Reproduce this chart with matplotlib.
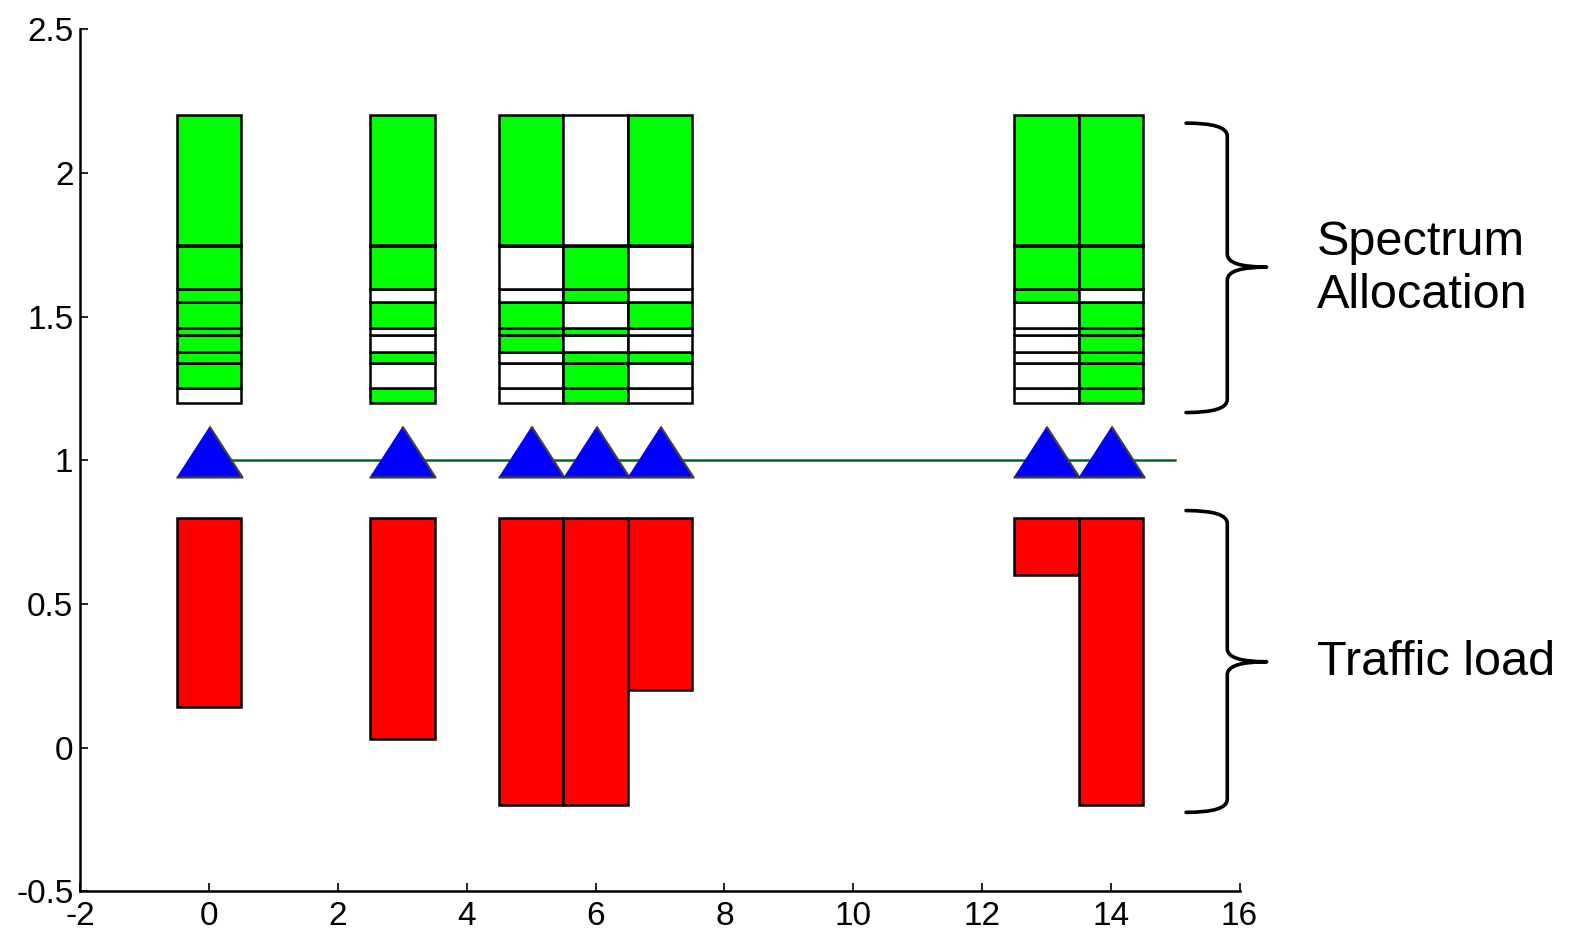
import numpy as np
import matplotlib.pyplot as plt
from matplotlib.path import Path
from matplotlib.patches import PathPatch

plt.rcParams['font.family'] = ['Liberation Sans', 'DejaVu Sans']
plt.rcParams['axes.unicode_minus'] = False

# node positions along the x axis
nodes = [0, 3, 5, 6, 7, 13, 14]

# spectrum allocation: band edges (1.2 .. 2.2) and occupancy of each band per node (bottom -> top)
band_edges = [1.2, 1.25, 1.34, 1.375, 1.435, 1.46, 1.55, 1.595, 1.745, 1.75, 2.2]
occupancy = [
    [0, 1, 1, 1, 1, 1, 1, 1, 1, 1],
    [1, 0, 1, 0, 0, 1, 0, 1, 1, 1],
    [0, 0, 0, 1, 1, 1, 0, 0, 0, 1],
    [1, 1, 1, 0, 1, 0, 1, 1, 1, 0],
    [0, 0, 1, 0, 0, 1, 0, 0, 0, 1],
    [0, 0, 0, 0, 0, 0, 1, 1, 1, 1],
    [1, 1, 1, 1, 1, 1, 0, 1, 1, 1],
]

# traffic load bars hang down from 0.8
load_top = 0.8
traffic_load = [0.66, 0.77, 1.0, 1.0, 0.6, 0.2, 1.0]

# line that carries the nodes
link_x = [0, 15]
link_y = 1.0

fig = plt.figure(figsize=(15.7, 9.3), dpi=100)
ax = fig.add_axes([0.0512, 0.0415, 0.7383, 0.9272])

# spectrum blocks
edges = np.array(band_edges)
for x, occ in zip(nodes, occupancy):
    cols = ['#00ff00' if o else 'white' for o in occ]
    ax.bar([x] * len(occ), np.diff(edges), bottom=edges[:-1], width=1.0,
           color=cols, edgecolor='black', linewidth=1.8, zorder=2)

# traffic load bars
load = np.array(traffic_load)
ax.bar(nodes, load, bottom=load_top - load, width=1.0, color='#ff0000',
       edgecolor='black', linewidth=1.8, zorder=2)

# link line and node triangles
ax.plot(link_x, [link_y, link_y], color='#006a1c', linewidth=1.8, zorder=3)
tri = [(-1, -0.515), (1, -0.515), (0, 1.031)]
ax.plot(nodes, [link_y] * len(nodes), linestyle='none', marker=tri,
        markersize=49, markerfacecolor='#0000ff', markeredgecolor='#404040',
        markeredgewidth=1.6, zorder=4)

ax.set_xlim(-2, 16)
ax.set_ylim(-0.5, 2.5)
ax.set_xticks(np.arange(-2, 17, 2))
ax.set_yticks(np.arange(-0.5, 2.6, 0.5))
ax.set_yticklabels(['-0.5', '0', '0.5', '1', '1.5', '2', '2.5'])
ax.spines['top'].set_visible(False)
ax.spines['right'].set_visible(False)
for s in ['left', 'bottom']:
    ax.spines[s].set_linewidth(1.8)
ax.tick_params(direction='in', length=6, width=1.2, labelsize=24)
ax.tick_params(axis='x', pad=7)
ax.tick_params(axis='y', pad=5)


def brace(x_left, x_spine, x_tip, y_top, y_bot, y_mid, r=0.045):
    verts = [
        (x_left, y_top), (x_spine, y_top), (x_spine, y_top - r),
        (x_spine, y_mid + r), (x_spine, y_mid), (x_tip, y_mid),
        (x_spine, y_mid), (x_spine, y_mid - r),
        (x_spine, y_bot + r), (x_spine, y_bot), (x_left, y_bot),
    ]
    codes = [Path.MOVETO, Path.CURVE3, Path.CURVE3,
             Path.LINETO, Path.CURVE3, Path.CURVE3,
             Path.CURVE3, Path.CURVE3,
             Path.LINETO, Path.CURVE3, Path.CURVE3]
    ax.add_patch(PathPatch(Path(verts, codes), facecolor='none', edgecolor='black',
                           linewidth=2.6, clip_on=False, capstyle='round',
                           joinstyle='round'))


brace(15.17, 15.81, 16.42, 2.173, 1.166, 1.672)
brace(15.17, 15.81, 16.42, 0.825, -0.225, 0.299)

ax.text(17.2, 1.665, 'Spectrum\nAllocation', fontsize=35, ha='left', va='center',
        linespacing=1.25, clip_on=False)
ax.text(17.2, 0.295, 'Traffic load', fontsize=35, ha='left', va='center',
        clip_on=False)

fig.savefig('out.png', dpi=100)
